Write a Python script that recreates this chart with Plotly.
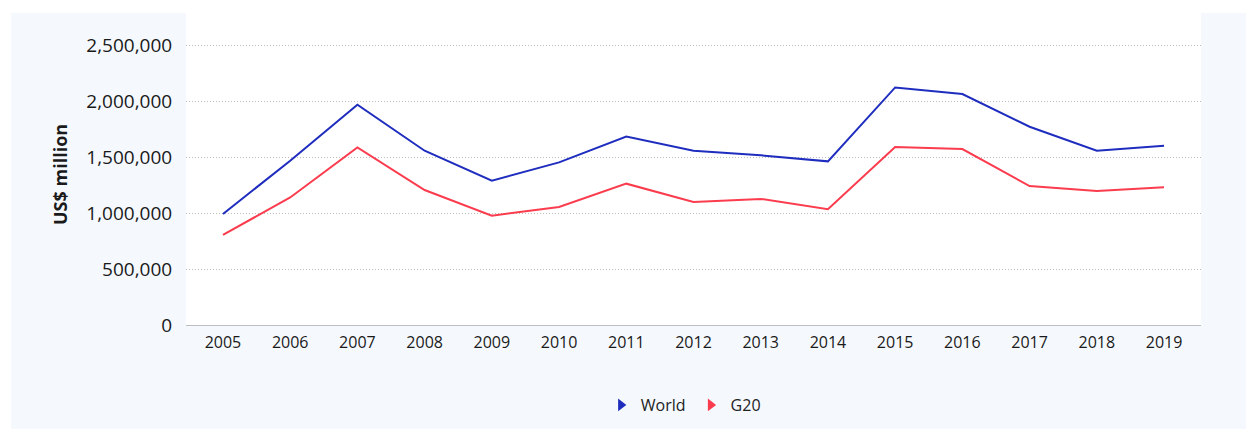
import plotly.graph_objects as go

# Annual values, US$ million
years = [2005, 2006, 2007, 2008, 2009, 2010, 2011, 2012, 2013, 2014, 2015, 2016, 2017, 2018, 2019]
world = [991000, 1467000, 1967000, 1556000, 1288000, 1452000, 1683000, 1555000, 1515000, 1461000,
         2121000, 2062000, 1770000, 1556000, 1601000]
g20 = [804000, 1139000, 1586000, 1205000, 976000, 1054000, 1262000, 1099000, 1126000, 1034000,
       1589000, 1571000, 1241000, 1196000, 1229000]

y_ticks = [0, 500000, 1000000, 1500000, 2000000, 2500000]
y_tick_text = ["0", "500,000", "1,000,000", "1,500,000", "2,000,000", "2,500,000"]

series = [("World", world, "#1f2dbf"), ("G20", g20, "#fb3c4e")]

W, H = 1246, 429
L, R, T, B = 186, 45, 13, 104
plot_w = W - L - R
plot_h = H - T - B

fig = go.Figure()
for name, vals, color in series:
    fig.add_trace(go.Scatter(
        x=years, y=vals, mode="lines", name=name,
        line=dict(color=color, width=2), showlegend=False, legendgroup=name,
    ))
for name, vals, color in series:
    fig.add_trace(go.Scatter(
        x=[None], y=[None], mode="markers", name=name, legendgroup=name,
        marker=dict(symbol="triangle-right", size=11, color=color),
    ))

def px_x(p):
    return (p - L) / plot_w

def px_y(p):
    return (H - B - p) / plot_h

# light panel behind everything, white plotting area on top of it
fig.add_shape(type="rect", xref="paper", yref="paper", layer="below",
              x0=px_x(11), x1=px_x(W + 5), y0=px_y(H + 5), y1=px_y(13),
              fillcolor="#f5f9fd", line=dict(width=0))
fig.add_shape(type="rect", xref="paper", yref="paper", layer="below",
              x0=0, x1=1, y0=0, y1=1, fillcolor="white", line=dict(width=0))

fig.add_annotation(text="<b>US$ million</b>", textangle=-90, showarrow=False,
                   xref="paper", yref="paper", x=px_x(60), y=px_y(175),
                   xanchor="center", yanchor="middle",
                   font=dict(size=18, color="#1a1a1a", family="Open Sans"))

fig.update_layout(
    width=W, height=H,
    margin=dict(l=L, r=R, t=T, b=B, autoexpand=False),
    paper_bgcolor="white", plot_bgcolor="white",
    font=dict(family="Open Sans", size=16, color="#1a1a1a"),
    legend=dict(orientation="h", x=0.49, xanchor="center", y=px_y(405), yanchor="middle",
                font=dict(size=16, color="#222"), bgcolor="rgba(0,0,0,0)",
                itemwidth=30, tracegroupgap=0),
    xaxis=dict(range=[2004.45, 2019.55], tickmode="array", tickvals=years,
               ticktext=[str(y) for y in years], showgrid=False, zeroline=False,
               showline=False, ticks="outside", ticklen=3, tickcolor="rgba(0,0,0,0)",
               tickfont=dict(size=16, color="#1a1a1a")),
    yaxis=dict(range=[0, 2500000 * plot_h / 280], tickmode="array", tickvals=y_ticks,
               ticktext=y_tick_text, showgrid=True, gridcolor="#bdbdbd", griddash="1px,2px",
               gridwidth=1, zeroline=True, zerolinecolor="#bdbdbd", zerolinewidth=1,
               showline=False, ticks="outside", ticklen=9, tickcolor="rgba(0,0,0,0)",
               tickfont=dict(size=19, color="#1a1a1a")),
    showlegend=True,
)

fig.write_html("out.html")
